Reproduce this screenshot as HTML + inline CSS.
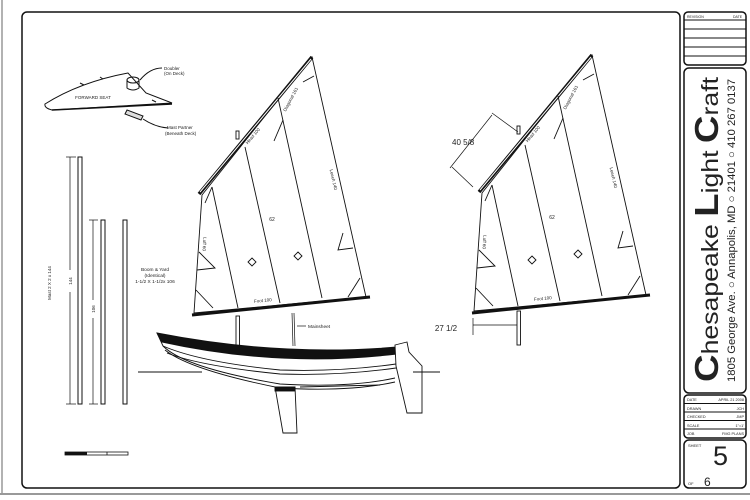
<!DOCTYPE html>
<html><head><style>
html,body{margin:0;padding:0;background:#fff;}
svg{display:block;}
text{font-family:"Liberation Sans",sans-serif;fill:#222;}
</style></head><body>
<svg width="750" height="500" viewBox="0 0 750 500" xmlns="http://www.w3.org/2000/svg">
<rect width="750" height="500" fill="#fff"/>
<line x1="2" y1="0" x2="2" y2="494" stroke="#999" stroke-width="1.5"/>
<line x1="0" y1="494" x2="750" y2="494" stroke="#999" stroke-width="2"/>
<rect x="22" y="12" width="658" height="476" rx="5" fill="none" stroke="#111" stroke-width="1.5"/>

<g fill="none" stroke="#111" stroke-width="1.5">
<rect x="684" y="12" width="62" height="53" rx="4"/>
<rect x="684" y="68" width="62" height="325" rx="5"/>
<rect x="684" y="395" width="62" height="43" rx="4"/>
<rect x="684" y="440" width="62" height="48" rx="5"/>
</g>
<g stroke="#111" stroke-width="1">
<line x1="684" y1="20" x2="746" y2="20"/>
<line x1="684" y1="29" x2="746" y2="29"/>
<line x1="684" y1="38" x2="746" y2="38"/>
<line x1="684" y1="47" x2="746" y2="47"/>
<line x1="684" y1="56" x2="746" y2="56"/>
<line x1="684" y1="403.5" x2="746" y2="403.5"/>
<line x1="684" y1="412" x2="746" y2="412"/>
<line x1="684" y1="420.5" x2="746" y2="420.5"/>
<line x1="684" y1="429" x2="746" y2="429"/>
</g>
<text x="687" y="18" font-size="3.5">REVISION</text><text x="733" y="18" font-size="3.5">DATE</text>
<g font-size="3.8">
<text x="687" y="401">DATE</text><text x="744" y="401" text-anchor="end">APRIL 21 2008</text>
<text x="687" y="410">DRAWN</text><text x="744" y="410" text-anchor="end">JCH</text>
<text x="687" y="418">CHECKED</text><text x="744" y="418" text-anchor="end">JMP</text>
<text x="687" y="427">SCALE</text><text x="744" y="427" text-anchor="end">1"=1'</text>
<text x="687" y="435">JOB</text><text x="744" y="435" text-anchor="end">FMG PLANS</text>
</g>
<text x="688" y="447" font-size="4">SHEET</text>
<text x="713" y="465" font-size="27">5</text>
<text x="688" y="485" font-size="4">OF</text>
<text x="704" y="486" font-size="12">6</text>

<g transform="translate(718,382) rotate(-90)">
<text x="0" y="0" font-size="23" textLength="305" lengthAdjust="spacingAndGlyphs"><tspan font-size="33" font-weight="bold">C</tspan>hesapeake <tspan font-size="33" font-weight="bold">L</tspan>ight <tspan font-size="33" font-weight="bold">C</tspan>raft</text>
</g>
<g transform="translate(735,382) rotate(-90)">
<text x="0" y="0" font-size="11" textLength="303" lengthAdjust="spacingAndGlyphs">1805 George Ave. ○ Annapolis, MD ○ 21401 ○ 410 267 0137</text>
</g>

<g fill="none" stroke="#111" stroke-width="1">
<path d="M45,104 Q80,82 128,73 L146,93 L172,103 L52,110 Q44,108 45,104 Z" fill="#fff"/>
<path d="M52,110 L172,104" stroke-width="1.6"/>
<ellipse cx="133" cy="80" rx="6" ry="3"/>
<path d="M127,80 L127,88 Q133,92 139,88 L139,80"/>
<path d="M127,110 L143,116 L141,120 L125,114 Z" fill="#ddd"/>
<path d="M140,80 Q150,68 162,68"/>
<path d="M143,119 Q155,127 168,128"/>
<line x1="80" y1="83" x2="84" y2="85"/><line x1="100" y1="77" x2="103" y2="79"/><line x1="152" y1="100" x2="156" y2="102"/>
</g>
<text x="93" y="99" font-size="4.5" text-anchor="middle">FORWARD SEAT</text>
<text x="164" y="70" font-size="4.5">Doubler</text><text x="164" y="75" font-size="4.5">(On Deck)</text>
<text x="167" y="129" font-size="4.5">Mast Partner</text><text x="165" y="135" font-size="4.5">(Beneath Deck)</text>

<g fill="#fff" stroke="#111" stroke-width="1">
<rect x="78" y="157" width="4" height="247"/>
<rect x="101" y="220" width="4" height="184"/>
<rect x="123" y="220" width="4" height="184"/>
</g>
<g stroke="#111" stroke-width="0.7">
<line x1="70" y1="157" x2="70" y2="270"/><line x1="70" y1="292" x2="70" y2="404"/>
<line x1="66" y1="157" x2="76" y2="157"/><line x1="66" y1="404" x2="76" y2="404"/>
<line x1="93" y1="220" x2="93" y2="300"/><line x1="93" y1="318" x2="93" y2="404"/>
<line x1="89" y1="220" x2="98" y2="220"/><line x1="89" y1="404" x2="98" y2="404"/>
</g>
<text transform="translate(72,281) rotate(-90)" font-size="4.5" text-anchor="middle">144</text>
<text transform="translate(95,309) rotate(-90)" font-size="4.5" text-anchor="middle">106</text>
<text transform="translate(51,283) rotate(-90)" font-size="4.5" text-anchor="middle">Mast 2 X 2 x 144</text>
<g font-size="4.8" text-anchor="middle">
<text x="155" y="271">Boom &amp; Yard</text><text x="155" y="277">(Identical)</text><text x="155" y="283">1-1/2 X 1-1/2x 106</text>
</g>
<rect x="65" y="452" width="63" height="3" fill="#fff" stroke="#111" stroke-width="0.8"/>
<rect x="65" y="452" width="22" height="3" fill="#111"/>
<line x1="107" y1="452" x2="107" y2="455" stroke="#111" stroke-width="0.8"/>

<g id="sailL">
<g fill="none" stroke="#111" stroke-width="0.9">
<path d="M202,195 L312,57 L366,297 L194,313 Z" fill="#fff"/>
<line x1="199" y1="194" x2="312" y2="57" stroke-width="3.5"/>
<line x1="200" y1="192" x2="311" y2="59" stroke="#fff" stroke-width="1"/>
<line x1="192" y1="315" x2="370" y2="297" stroke-width="3"/>
<line x1="212" y1="187" x2="238" y2="308"/>
<line x1="245" y1="147" x2="280" y2="303"/>
<line x1="278" y1="98" x2="322" y2="298"/>
<polyline points="205,203 212,187"/>
<polyline points="199,252 215,268 197,270"/>
<polyline points="196,290 213,308"/>
<polyline points="343,233 338,250 353,248"/>
<polyline points="360,278 348,297"/>
<polyline points="303,82 314,76"/>
<path d="M252,258 l4,4 l-4,4 l-4,-4 Z"/>
<path d="M298,252 l4,4 l-4,4 l-4,-4 Z"/>
<line x1="274" y1="141" x2="283" y2="120"/>
</g>
<text x="272" y="221" font-size="5" text-anchor="middle">62</text>
<text x="263" y="302" font-size="4.5" text-anchor="middle" transform="rotate(-6 263 302)">Foot 100</text>
<text x="254" y="137" font-size="4.5" text-anchor="middle" transform="rotate(-50 254 137)">Head 100</text>
<text x="292" y="100" font-size="4.5" text-anchor="middle" transform="rotate(-62 292 100)">Diagonal 161</text>
<text x="332" y="180" font-size="4.5" text-anchor="middle" transform="rotate(77 332 180)">Leech 140</text>
<text x="203" y="244" font-size="4.5" text-anchor="middle" transform="rotate(93 203 244)">Luff 60</text>
</g>
<use href="#sailL" transform="translate(280,-2)"/>

<g stroke="#111" stroke-width="0.9" fill="#fff">
<rect x="236" y="316" width="3.5" height="32"/>
<rect x="236" y="131" width="3" height="8"/>
<rect x="517" y="311" width="3.5" height="34"/>
<rect x="517" y="126" width="3" height="8"/>
</g>
<g stroke="#111" stroke-width="0.7">
<line x1="292" y1="313" x2="293" y2="346"/><line x1="294" y1="313" x2="295" y2="346"/>
<line x1="297" y1="326" x2="306" y2="326"/>
</g>
<text x="308" y="328" font-size="4.8">Mainsheet</text>

<g stroke="#111" stroke-width="0.7" fill="none">
<line x1="450" y1="168" x2="492" y2="115"/>
<line x1="492" y1="113" x2="518" y2="132"/>
<line x1="452" y1="167" x2="473" y2="187"/>
<line x1="473" y1="318" x2="473" y2="335"/>
<line x1="473" y1="325" x2="517" y2="325"/>
</g>
<text x="452" y="145" font-size="8">40 5/8</text>
<text x="446" y="331" font-size="8" text-anchor="middle">27 1/2</text>

<g stroke="#111" stroke-width="0.9" fill="none">
<path d="M157,333 Q280,357 397,347 L397,354 Q280,368 162,342 Z" fill="#111"/>
<path d="M157,333 L163,346 Q185,368 280,384 Q350,388 395,378"/>
<path d="M165,350 Q190,370 280,388 Q350,392 395,382" />
<path d="M163,346 Q200,362 280,370 Q340,372 396,364"/>
<path d="M167,353 Q200,366 280,374 Q340,376 396,368"/>
<path d="M395,345 L407,342 L409,352 L422,366 L422,413 L407,413 L396,366 Z" fill="#fff"/>
<line x1="413" y1="372" x2="440" y2="372"/>
<line x1="138" y1="372" x2="202" y2="372"/>
<path d="M275,387 L295,387 L297,433 L283,433 Z" fill="#fff"/>
<rect x="275" y="387" width="20" height="4" fill="#111"/>
<line x1="300" y1="387" x2="380" y2="385"/>
</g>
</svg>
</body></html>
